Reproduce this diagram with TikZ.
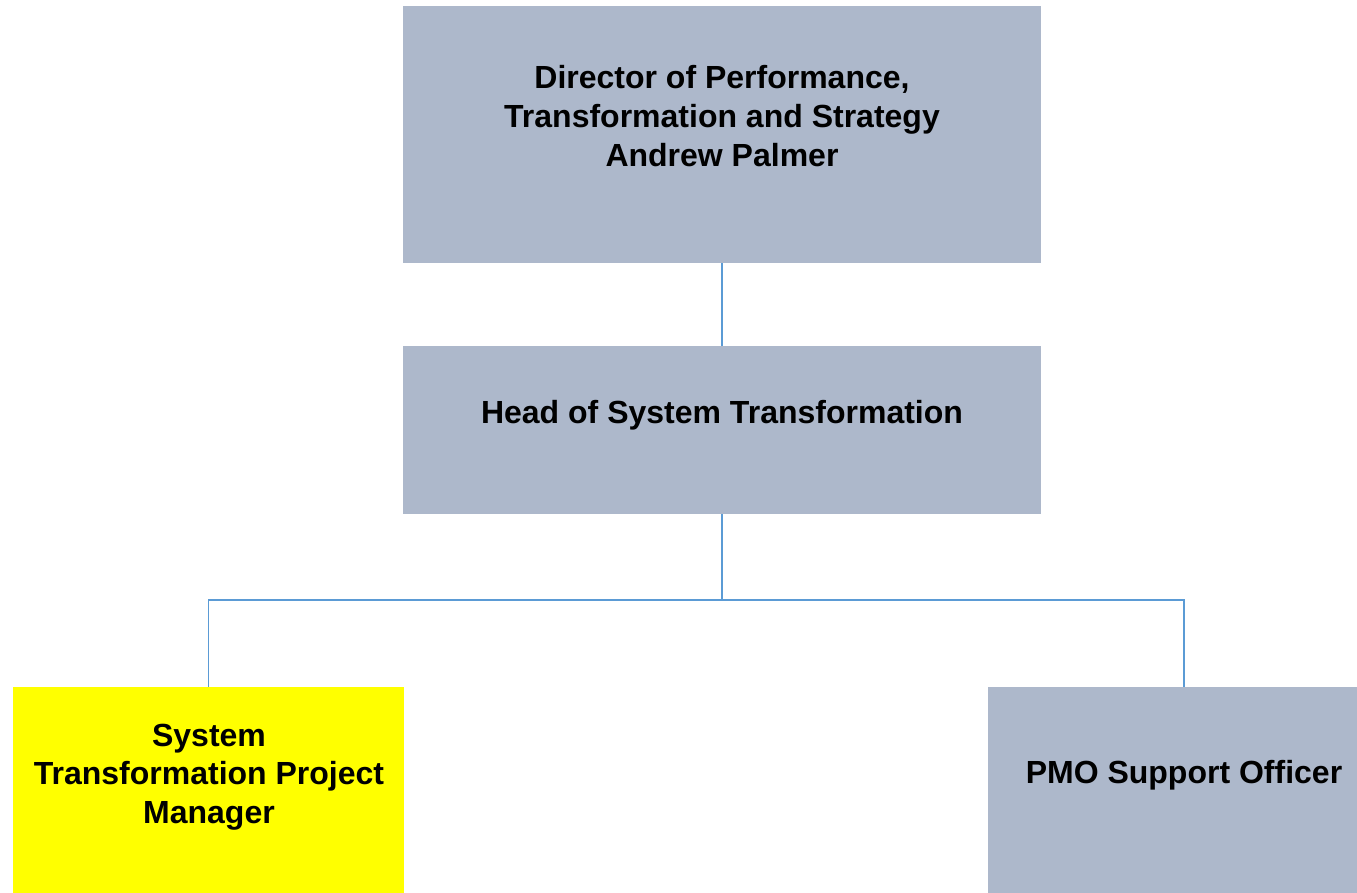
\documentclass[tikz,border=0pt]{standalone}
\usepackage{fontspec}
\setmainfont{Liberation Sans}
\usepackage{tikz}
\usetikzlibrary{positioning}
\usepackage{xcolor}

\definecolor{postgrey}{HTML}{ADB8CB}
\definecolor{postyellow}{HTML}{FFFF00}
\definecolor{linkblue}{HTML}{5B9BD5}

\tikzset{
    postbox/.style={rectangle, fill=postgrey, inner sep=0pt},
    posttext/.style={align=center, text=black, inner sep=0pt, font=\fontsize{32}{38.7}\selectfont\bfseries},
    link/.style={draw=linkblue, line width=1.5pt}
}

\begin{document}
\begin{tikzpicture}[x=1pt, y=-1pt]
    \useasboundingbox (0,0) rectangle (1357,892);
    \clip (0,0) rectangle (1357,892);

    % Post boxes
    \node (director) [postbox, minimum width=638pt, minimum height=257pt] at (722,134.5) {};
    \node (head) [postbox, minimum width=638pt, minimum height=168pt] at (722,430) {};
    \node (projman) [postbox, fill=postyellow, minimum width=391pt, minimum height=213pt] at (208.5,793.5) {};
    \node (pmo) [postbox, minimum width=392pt, minimum height=213pt] at (1184,793.5) {};

    % Titles
    \node (directortext) [posttext] at (722,116) {Director of Performance,\\Transformation and Strategy\\Andrew Palmer};
    \node (headtext) [posttext] at (722,415) {Head of System Transformation};
    \node (projmantext) [posttext] at (209,777) {System\\Transformation Project\\Manager};
    \node (pmotext) [posttext] at (1184,775.5) {PMO Support Officer};

    % Reporting lines
    \coordinate (split) at (722,600);
    \draw [link] (director.south) -- (head.north);
    \draw [link] (head.south) -- (split);
    \draw [link] (split) -| (projman.north);
    \draw [link] (split) -| (pmo.north);
\end{tikzpicture}
\end{document}
